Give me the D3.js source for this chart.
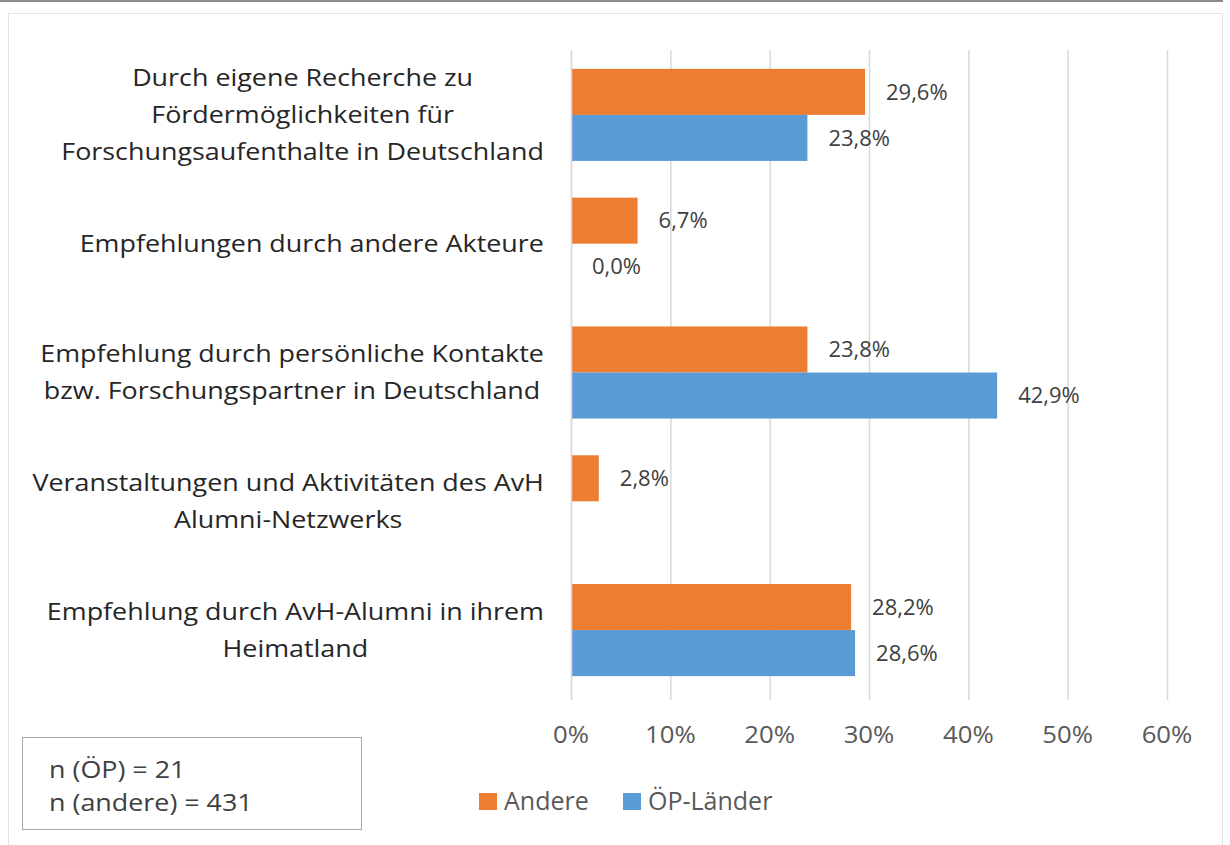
<!DOCTYPE html>
<html>
<head>
<meta charset="utf-8">
<script src="https://cdn.jsdelivr.net/npm/d3@7"></script>
<style>
  html, body { margin: 0; padding: 0; background: #fff; }
  svg { display: block; font-family: 'Open Sans', sans-serif; }
</style>
</head>
<body>
<svg id="chart" width="1230" height="845"></svg>
<script>
// category labels, one array of lines per category (top to bottom)
const categoryLines = [
  ['Durch eigene Recherche zu', 'Fördermöglichkeiten für', 'Forschungsaufenthalte in Deutschland'],
  ['Empfehlungen durch andere Akteure'],
  ['Empfehlung durch persönliche Kontakte', 'bzw. Forschungspartner in Deutschland'],
  ['Veranstaltungen und Aktivitäten des AvH', 'Alumni-Netzwerks'],
  ['Empfehlung durch AvH-Alumni in ihrem', 'Heimatland'],
];
const categories = categoryLines.map((l) => l.join(' '));

const seriesNames = ['Andere', 'ÖP-Länder'];
const andereValues = [29.6, 6.7, 23.8, 2.8, 28.2];
const oepValues = [23.8, 0.0, 42.9, null, 28.6];
const xTicks = [0, 10, 20, 30, 40, 50, 60];
const noteLines = ['n (ÖP) = 21', 'n (andere) = 431'];

const colors = { 'Andere': '#ED7D31', 'ÖP-Länder': '#5B9BD5' };

// the source picture is a little stretched sideways, so most text is widened
const textStretch = 1.12;

const svg = d3.select('#chart');

// outer frame
svg.append('line')
  .attr('x1', 0).attr('x2', 1223).attr('y1', 1).attr('y2', 1)
  .attr('stroke', '#8c8c8c').attr('stroke-width', 2);
svg.append('rect')
  .attr('x', 8.5).attr('y', 13.5).attr('width', 1214).attr('height', 840)
  .attr('fill', 'none').attr('stroke', '#e3e3e3');

// scales
const x = d3.scaleLinear().domain([0, 60]).range([571, 1167]);
const y = d3.scaleBand().domain(categories).range([50.5, 694.5])
  .paddingInner(0.285).paddingOuter(0.1425);
const ySub = d3.scaleBand().domain(seriesNames).range([0, y.bandwidth()]);

// gridlines
svg.append('g').attr('class', 'grid')
  .selectAll('line')
  .data(xTicks)
  .join('line')
  .attr('x1', (d) => x(d) + 0.5).attr('x2', (d) => x(d) + 0.5)
  .attr('y1', 50).attr('y2', 700)
  .attr('stroke', '#d9d9d9').attr('stroke-width', 1.5);

// x axis tick labels
svg.append('g').attr('class', 'x-axis')
  .selectAll('text')
  .data(xTicks)
  .join('text')
  .attr('transform', (d) => `translate(${x(d)},735) scale(${textStretch},1)`)
  .attr('dy', '0.35em')
  .attr('text-anchor', 'middle')
  .attr('fill', '#595959')
  .style('font-size', '23px')
  .text((d) => d + '%');

// bars
const rows = categories.map((c, i) => ({
  category: c,
  values: [
    { series: 'Andere', value: andereValues[i] },
    { series: 'ÖP-Länder', value: oepValues[i] },
  ],
}));

const groups = svg.append('g').attr('class', 'bars')
  .selectAll('g')
  .data(rows)
  .join('g')
  .attr('transform', (d) => `translate(0,${y(d.category)})`);

groups.selectAll('rect')
  .data((d) => d.values.filter((v) => v.value !== null))
  .join('rect')
  .attr('x', x(0))
  .attr('y', (d) => ySub(d.series))
  .attr('width', (d) => x(d.value) - x(0))
  .attr('height', ySub.bandwidth())
  .attr('fill', (d) => colors[d.series]);

groups.selectAll('text.value')
  .data((d) => d.values.filter((v) => v.value !== null))
  .join('text')
  .attr('class', 'value')
  .attr('x', (d) => x(d.value) + 21)
  .attr('y', (d) => ySub(d.series) + ySub.bandwidth() / 2)
  .attr('dy', '0.35em')
  .attr('fill', '#404040')
  .style('font-size', '22px')
  .text((d) => d.value.toFixed(1).replace('.', ',') + '%');

// y axis line
svg.append('line')
  .attr('x1', x(0) + 0.5).attr('x2', x(0) + 0.5)
  .attr('y1', 50).attr('y2', 700)
  .attr('stroke', '#d9d9d9').attr('stroke-width', 1.5);

// category labels: lines centred on each other, block right aligned
const labelRight = 544;
const lineHeight = 37;
const labelG = svg.append('g').attr('class', 'y-labels');
categoryLines.forEach((lines, i) => {
  const g = labelG.append('g');
  const cy = y(categories[i]) + y.bandwidth() / 2;
  const texts = g.selectAll('text')
    .data(lines)
    .join('text')
    .attr('dy', '0.35em')
    .attr('text-anchor', 'middle')
    .attr('fill', '#262626')
    .style('font-size', '24px')
    .text((d) => d);
  const maxW = d3.max(texts.nodes(), (n) => n.getComputedTextLength()) * textStretch;
  texts.attr('transform', (d, j) =>
    `translate(${labelRight - maxW / 2},${cy + (j - (lines.length - 1) / 2) * lineHeight}) scale(${textStretch},1)`);
});

// legend
const legend = svg.append('g').attr('class', 'legend');
const legendX = [479, 623];
seriesNames.forEach((s, i) => {
  legend.append('rect')
    .attr('x', legendX[i]).attr('y', 793)
    .attr('width', 18).attr('height', 17)
    .attr('fill', colors[s]);
  legend.append('text')
    .attr('x', legendX[i] + 25).attr('y', 801)
    .attr('dy', '0.35em')
    .attr('fill', '#595959')
    .style('font-size', '25px')
    .text(s);
});

// note box
svg.append('rect')
  .attr('x', 22.5).attr('y', 737.5).attr('width', 339).attr('height', 92)
  .attr('fill', '#fff').attr('stroke', '#a6a6a6');
svg.append('g').attr('class', 'note')
  .selectAll('text')
  .data(noteLines)
  .join('text')
  .attr('transform', (d, i) => `translate(49,${770 + i * 33}) scale(${textStretch},1)`)
  .attr('dy', '0.35em')
  .attr('fill', '#404040')
  .style('font-size', '24px')
  .text((d) => d);
</script>
</body>
</html>
